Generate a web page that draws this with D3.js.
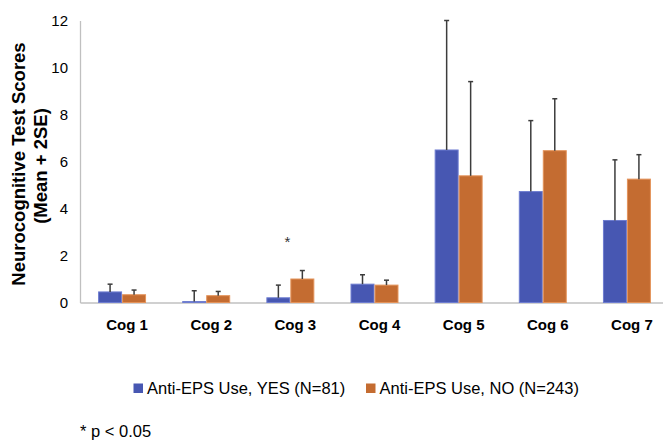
<!DOCTYPE html>
<html>
<head>
<meta charset="utf-8">
<script src="https://cdn.jsdelivr.net/npm/d3@7"></script>
<style>
  body { margin: 0; background: #fff; }
  svg { font-family: Arial, "Liberation Sans", sans-serif; display: block; }
</style>
</head>
<body>
<div id="container"></div>
<script>
const width = 663;
const height = 440;

// Categories and series
const categories = ["Cog 1", "Cog 2", "Cog 3", "Cog 4", "Cog 5", "Cog 6", "Cog 7"];
const series = ["Anti-EPS Use, YES (N=81)", "Anti-EPS Use, NO (N=243)"];

// Means
const yesMeans = [0.45, 0.04, 0.2, 0.78, 6.49, 4.72, 3.49];
const noMeans = [0.33, 0.29, 1.0, 0.74, 5.39, 6.46, 5.25];

// 2SE (length of the error bar above each mean)
const yesErr = [0.33, 0.46, 0.54, 0.4, 5.51, 3.02, 2.58];
const noErr = [0.2, 0.18, 0.36, 0.21, 4.01, 2.21, 1.04];

// significance markers
const sigCats = ["Cog 3"];

const yTicks = [0, 2, 4, 6, 8, 10, 12];

const colours = ["#4757b2", "#c46c31"];
const edges = ["#6e7dd0", "#e4935a"];

const svg = d3
  .select("#container")
  .append("svg")
  .attr("width", width)
  .attr("height", height);

// Build scales
const x0 = d3
  .scaleBand()
  .domain(categories)
  .range([80, 669])
  .paddingInner(0.43)
  .paddingOuter(0.215);

const x1 = d3.scaleBand().domain(series).range([0, x0.bandwidth()]);

const y = d3.scaleLinear().domain([0, 12]).range([302.5, 20.5]);

const rows = categories.map((c, i) => ({
  cat: c,
  values: [
    { s: 0, mean: yesMeans[i], err: yesErr[i] },
    { s: 1, mean: noMeans[i], err: noErr[i] },
  ],
}));

// Y axis
const yAxis = svg
  .append("g")
  .attr("transform", "translate(80,0)")
  .call(d3.axisLeft(y).tickValues(yTicks).tickSize(0).tickSizeOuter(0).tickPadding(12));
yAxis.select(".domain").attr("stroke", "#c0c0c0").attr("stroke-width", 1.3);
yAxis.selectAll("text").attr("font-size", 15).attr("fill", "#000").attr("font-family", null);

// X axis
const xAxis = svg
  .append("g")
  .attr("transform", `translate(0,${y(0)})`)
  .call(d3.axisBottom(x0).tickSize(0).tickSizeOuter(0));
xAxis.select(".domain").attr("stroke", "#c0c0c0").attr("stroke-width", 1.3);
xAxis
  .selectAll("text")
  .attr("y", 27.5)
  .attr("dy", null)
  .attr("dx", 5)
  .attr("font-size", 15)
  .attr("font-weight", "bold")
  .attr("fill", "#000")
  .attr("font-family", null);

// Bars
const groups = svg
  .selectAll(".grp")
  .data(rows)
  .enter()
  .append("g")
  .attr("class", "grp")
  .attr("transform", (d) => `translate(${x0(d.cat)},0)`);

groups
  .selectAll("rect")
  .data((d) => d.values)
  .enter()
  .append("rect")
  .attr("x", (d) => x1(series[d.s]) + 0.5)
  .attr("width", x1.bandwidth() - 1)
  .attr("y", (d) => y(d.mean))
  .attr("height", (d) => y(0) - y(d.mean))
  .attr("fill", (d) => colours[d.s])
  .attr("stroke", (d) => edges[d.s])
  .attr("stroke-width", 1);

// Error bars (mean + 2SE)
const eb = groups
  .selectAll(".err")
  .data((d) => d.values)
  .enter()
  .append("g")
  .attr("class", "err")
  .attr("stroke", "#3c3c3c")
  .attr("stroke-width", 1.5);

eb.append("line")
  .attr("x1", (d) => x1(series[d.s]) + x1.bandwidth() / 2)
  .attr("x2", (d) => x1(series[d.s]) + x1.bandwidth() / 2)
  .attr("y1", (d) => y(d.mean))
  .attr("y2", (d) => y(d.mean + d.err));

eb.append("line")
  .attr("x1", (d) => x1(series[d.s]) + x1.bandwidth() / 2 - 2.5)
  .attr("x2", (d) => x1(series[d.s]) + x1.bandwidth() / 2 + 2.5)
  .attr("y1", (d) => y(d.mean + d.err))
  .attr("y2", (d) => y(d.mean + d.err));

// significance star
svg
  .selectAll(".sig")
  .data(sigCats)
  .enter()
  .append("text")
  .attr("class", "sig")
  .attr("x", (d) => x0(d) + x0.bandwidth() / 2 - 3)
  .attr("y", y(2.35))
  .attr("text-anchor", "middle")
  .attr("font-size", 15)
  .attr("fill", "#333")
  .text("*");

// Y title
svg
  .append("text")
  .attr("transform", "translate(25,164) rotate(-90)")
  .attr("text-anchor", "middle")
  .attr("font-size", 18.5)
  .attr("font-weight", "bold")
  .text("Neurocognitive Test Scores");

svg
  .append("text")
  .attr("transform", "translate(47,166) rotate(-90)")
  .attr("text-anchor", "middle")
  .attr("font-size", 18.5)
  .attr("font-weight", "bold")
  .text("(Mean + 2SE)");

// Legend
const legendX = [133.5, 366];
const legend = svg
  .selectAll(".leg")
  .data(series)
  .enter()
  .append("g")
  .attr("class", "leg")
  .attr("transform", (d, i) => `translate(${legendX[i]},383.5)`);

legend
  .append("rect")
  .attr("width", 9.5)
  .attr("height", 9.5)
  .attr("fill", (d, i) => colours[i]);

legend
  .append("text")
  .attr("x", 13.5)
  .attr("y", 10)
  .attr("font-size", 16.5)
  .text((d) => d);

// Footnote
svg
  .append("text")
  .attr("x", 80)
  .attr("y", 437)
  .attr("font-size", 16.5)
  .text("* p < 0.05");
</script>
</body>
</html>
